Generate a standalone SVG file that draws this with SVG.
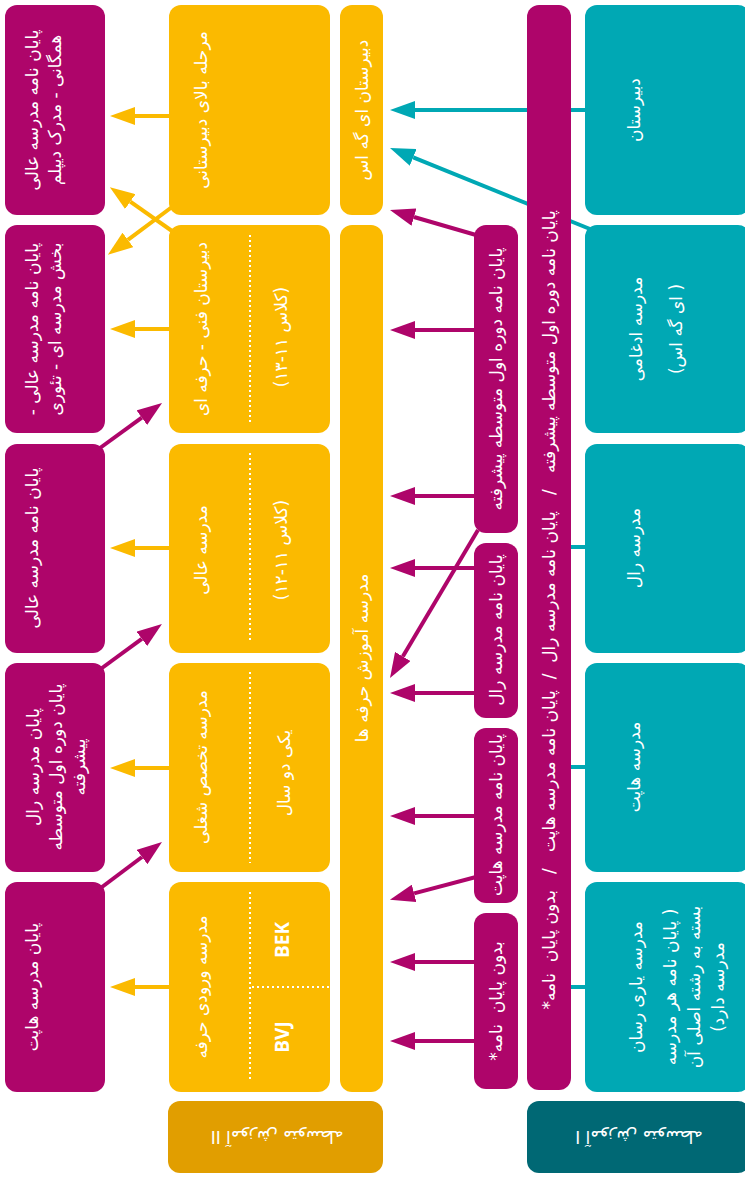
<svg xmlns="http://www.w3.org/2000/svg" width="745" height="1177" viewBox="0 0 745 1177">
<style>
.p{fill:#AE056A}
.y{fill:#FBBA00}
.t{fill:#00A8B4}
.fa{font-family:"DejaVu Sans",sans-serif;font-size:17px;fill:#fff;text-anchor:middle;dominant-baseline:central;direction:rtl}
.lat{font-family:"Open Sans","Liberation Sans",sans-serif;font-size:19px;font-weight:bold;fill:#fff;text-anchor:middle;dominant-baseline:central}
.lbl{font-family:"DejaVu Sans",sans-serif;font-size:17px;fill:#fff;text-anchor:middle;dominant-baseline:central}
.dot{stroke:#fff;stroke-width:2;stroke-dasharray:2 3;fill:none}
.cy{stroke:#FBBA00;stroke-width:4;fill:none}
.cp{stroke:#AE056A;stroke-width:4;fill:none}
.ct{stroke:#00A8B4;stroke-width:4;fill:none}
</style>
<defs>
<marker id="ay" markerUnits="userSpaceOnUse" markerWidth="25" markerHeight="18" viewBox="0 0 25 18" refX="0" refY="9" orient="auto"><path d="M0,0 L25,9 L0,18 Z" fill="#FBBA00"/></marker>
<marker id="ap" markerUnits="userSpaceOnUse" markerWidth="25" markerHeight="18" viewBox="0 0 25 18" refX="0" refY="9" orient="auto"><path d="M0,0 L25,9 L0,18 Z" fill="#AE056A"/></marker>
<marker id="at" markerUnits="userSpaceOnUse" markerWidth="25" markerHeight="18" viewBox="0 0 25 18" refX="0" refY="9" orient="auto"><path d="M0,0 L25,9 L0,18 Z" fill="#00A8B4"/></marker>
</defs>

<g id="connectors">
  <path class="cy" d="M169,116 H135" marker-end="url(#ay)"/>
  <path class="cy" d="M169,329 H135" marker-end="url(#ay)"/>
  <path class="cy" d="M169,548 H135" marker-end="url(#ay)"/>
  <path class="cy" d="M169,768 H135" marker-end="url(#ay)"/>
  <path class="cy" d="M169,987 H135" marker-end="url(#ay)"/>
  <path class="cy" d="M172,207 L127.9,239.9" marker-end="url(#ay)"/>
  <path class="cy" d="M172,231 L130.3,201.6" marker-end="url(#ay)"/>
  <path class="cp" d="M100,448 L141.8,417.7" marker-end="url(#ap)"/>
  <path class="cp" d="M102,668 L141.8,638.8" marker-end="url(#ap)"/>
  <path class="cp" d="M102,887 L142,857" marker-end="url(#ap)"/>
  <path class="ct" d="M585,110 H415" marker-end="url(#at)"/>
  <path class="ct" d="M590,229 L413.2,157.4" marker-end="url(#at)"/>
  <path class="ct" d="M571,547 H585"/>
  <path class="ct" d="M571,767 H585"/>
  <path class="ct" d="M571,987 H585"/>
  <path class="cp" d="M476,235 L414,217" marker-end="url(#ap)"/>
  <path class="cp" d="M474,330 H415" marker-end="url(#ap)"/>
  <path class="cp" d="M474,496 H415" marker-end="url(#ap)"/>
  <path class="cp" d="M478,530 L402.8,656.5" marker-end="url(#ap)"/>
  <path class="cp" d="M474,568 H415" marker-end="url(#ap)"/>
  <path class="cp" d="M474,693 H415" marker-end="url(#ap)"/>
  <path class="cp" d="M474,816 H415" marker-end="url(#ap)"/>
  <path class="cp" d="M476,877 L414.1,893.4" marker-end="url(#ap)"/>
  <path class="cp" d="M474,962 H415" marker-end="url(#ap)"/>
  <path class="cp" d="M474,1041 H415" marker-end="url(#ap)"/>
</g>

<g id="p1"><rect class="p" x="5" y="5" width="100" height="210" rx="12"/>
  <text class="fa" transform="translate(32,110) rotate(-90)">پایان نامه مدرسه عالی</text>
  <text class="fa" transform="translate(55,110) rotate(-90)">همگانی - مدرک دیپلم</text></g>
<g id="p2"><rect class="p" x="5" y="225" width="100" height="208" rx="12"/>
  <text class="fa" transform="translate(32,329) rotate(-90)">پایان نامه مدرسه عالی -</text>
  <text class="fa" transform="translate(55,329) rotate(-90)">بخش مدرسه ای - تئوری</text></g>
<g id="p3"><rect class="p" x="5" y="444" width="100" height="209" rx="12"/>
  <text class="fa" transform="translate(32,548) rotate(-90)">پایان نامه مدرسه عالی</text></g>
<g id="p4"><rect class="p" x="5" y="663" width="100" height="209" rx="12"/>
  <text class="fa" transform="translate(33,767) rotate(-90)">پایان مدرسه رال</text>
  <text class="fa" transform="translate(56,767) rotate(-90)">پایان دوره اول متوسطه</text>
  <text class="fa" transform="translate(79,767) rotate(-90)">پیشرفته</text></g>
<g id="p5"><rect class="p" x="5" y="882" width="100" height="210" rx="12"/>
  <text class="fa" transform="translate(32,987) rotate(-90)">پایان مدرسه هاپت</text></g>

<g id="y1"><rect class="y" x="169" y="5" width="161" height="210" rx="12"/>
  <text class="fa" transform="translate(201,110) rotate(-90)">مرحله بالای دبیرستانی</text></g>
<g id="y2"><rect class="y" x="169" y="225" width="161" height="208" rx="12"/>
  <line class="dot" x1="250" y1="235" x2="250" y2="425"/>
  <text class="fa" transform="translate(201,329) rotate(-90)">دبیرستان فنی - حرفه ای</text>
  <text class="fa" transform="translate(281,337) rotate(-90)">(کلاس ۱۱-۱۳)</text></g>
<g id="y3"><rect class="y" x="169" y="444" width="161" height="209" rx="12"/>
  <line class="dot" x1="250" y1="453" x2="250" y2="643"/>
  <text class="fa" transform="translate(201,550) rotate(-90)">مدرسه عالی</text>
  <text class="fa" transform="translate(281,550) rotate(-90)">(کلاس ۱۱-۱۲)</text></g>
<g id="y4"><rect class="y" x="169" y="663" width="161" height="209" rx="12"/>
  <line class="dot" x1="250" y1="672" x2="250" y2="863"/>
  <text class="fa" transform="translate(201,767) rotate(-90)">مدرسه تخصص شغلی</text>
  <text class="fa" transform="translate(284,773) rotate(-90)">یکی دو سال</text></g>
<g id="y5"><rect class="y" x="169" y="882" width="161" height="210" rx="12"/>
  <line class="dot" x1="250" y1="892" x2="250" y2="1082"/>
  <line class="dot" x1="252" y1="987" x2="330" y2="987"/>
  <text class="fa" transform="translate(201,987) rotate(-90)">مدرسه ورودی حرفه</text>
  <text class="lat" transform="translate(282,940) rotate(-90)">BEK</text>
  <text class="lat" transform="translate(282,1037) rotate(-90)">BVJ</text></g>

<g id="t1"><rect class="y" x="340" y="5" width="43" height="210" rx="12"/>
  <text class="fa" transform="translate(362,110) rotate(-90)">دبیرستان ای گه اس</text></g>
<g id="t2"><rect class="y" x="340" y="225" width="43" height="867" rx="12"/>
  <text class="fa" transform="translate(362,658) rotate(-90)">مدرسه آموزش حرفه ها</text></g>

<g id="s1"><rect class="p" x="474" y="225" width="44" height="308" rx="12"/>
  <text class="fa" transform="translate(496,379) rotate(-90)">پایان نامه دوره اول متوسطه پیشرفته</text></g>
<g id="s2"><rect class="p" x="474" y="543" width="44" height="175" rx="12"/>
  <text class="fa" transform="translate(496,630) rotate(-90)">پایان نامه مدرسه رال</text></g>
<g id="s3"><rect class="p" x="474" y="728" width="44" height="175" rx="12"/>
  <text class="fa" transform="translate(496,815) rotate(-90)">پایان نامه مدرسه هاپت</text></g>
<g id="s4"><rect class="p" x="474" y="913" width="44" height="176" rx="12"/>
  <text class="fa" transform="translate(496,1001) rotate(-90)" xml:space="preserve">بدون پایان  نامه*</text></g>

<g id="bar"><rect class="p" x="527" y="5" width="44" height="1085" rx="12"/>
  <text class="fa" transform="translate(549,610) rotate(-90)" xml:space="preserve">پایان نامه دوره اول متوسطه پیشرفته   /   پایان نامه مدرسه رال  /  پایان نامه مدرسه هاپت   /   بدون پایان  نامه*</text></g>

<g id="c1"><rect class="t" x="585" y="5" width="165" height="210" rx="12"/>
  <text class="fa" transform="translate(634,110) rotate(-90)">دبیرستان</text></g>
<g id="c2"><rect class="t" x="585" y="225" width="165" height="208" rx="12"/>
  <text class="fa" transform="translate(636,329) rotate(-90)">مدرسه ادغامی</text>
  <text class="fa" transform="translate(676,329) rotate(-90)">( ای گه اس)</text></g>
<g id="c3"><rect class="t" x="585" y="444" width="165" height="209" rx="12"/>
  <text class="fa" transform="translate(634,548) rotate(-90)">مدرسه رال</text></g>
<g id="c4"><rect class="t" x="585" y="663" width="165" height="209" rx="12"/>
  <text class="fa" transform="translate(634,767) rotate(-90)">مدرسه هاپت</text></g>
<g id="c5"><rect class="t" x="585" y="882" width="165" height="210" rx="12"/>
  <text class="fa" transform="translate(636,987) rotate(-90)">مدرسه یاری رسان</text>
  <text class="fa" transform="translate(670,987) rotate(-90)">( پایان نامه هر مدرسه</text>
  <text class="fa" transform="translate(694,987) rotate(-90)">بسته به رشته اصلی آن</text>
  <text class="fa" transform="translate(718,987) rotate(-90)">مدرسه دارد)</text></g>

<g id="label2"><rect x="168" y="1101" width="215" height="72" rx="12" fill="#E19E00"/>
  <text class="lbl" transform="translate(277,1137) rotate(180)">آموزش متوسطه II</text></g>
<g id="label1"><rect x="527" y="1101" width="223" height="72" rx="12" fill="#006874"/>
  <text class="lbl" transform="translate(639,1137) rotate(180)">آموزش متوسطه I</text></g>
</svg>
